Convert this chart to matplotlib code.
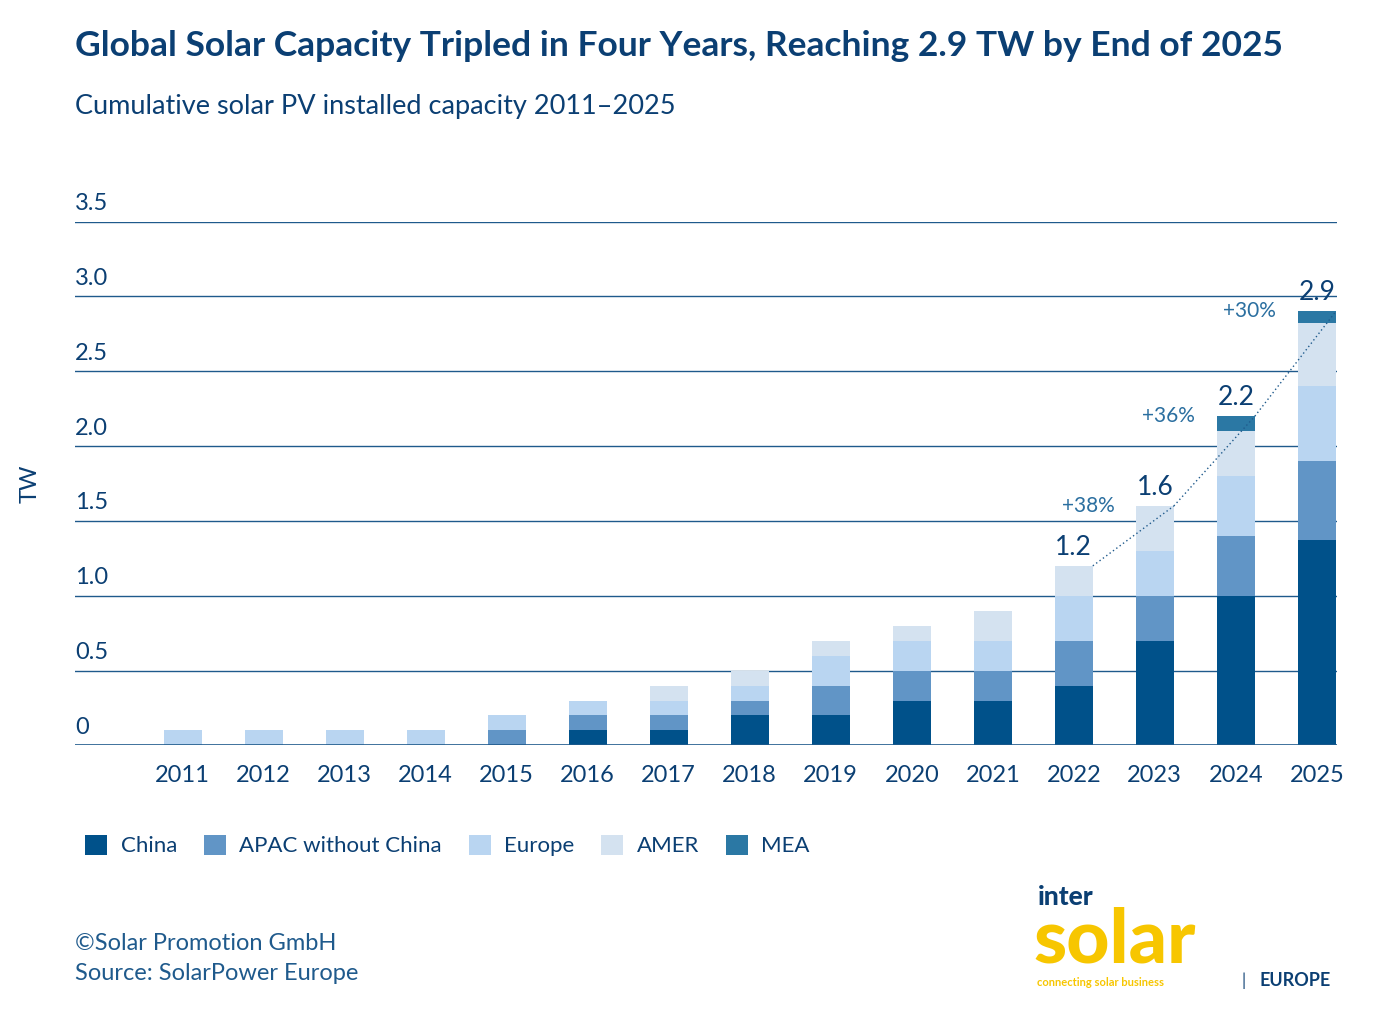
import numpy as np
import matplotlib.pyplot as plt

plt.rcParams["font.family"] = ["Lato", "DejaVu Sans"]

# Data (TW)
years = [2011, 2012, 2013, 2014, 2015, 2016, 2017, 2018, 2019, 2020, 2021, 2022, 2023, 2024, 2025]
china = [0, 0, 0, 0, 0, 0.1, 0.1, 0.2, 0.2, 0.3, 0.3, 0.4, 0.7, 1.0, 1.37]
apac = [0, 0, 0, 0, 0.1, 0.1, 0.1, 0.1, 0.2, 0.2, 0.2, 0.3, 0.3, 0.4, 0.53]
europe = [0.1, 0.1, 0.1, 0.1, 0.1, 0.1, 0.1, 0.1, 0.2, 0.2, 0.2, 0.3, 0.3, 0.4, 0.5]
amer = [0, 0, 0, 0, 0, 0, 0.1, 0.1, 0.1, 0.1, 0.2, 0.2, 0.3, 0.3, 0.42]
mea = [0, 0, 0, 0, 0, 0, 0, 0, 0, 0, 0, 0, 0, 0.1, 0.08]
total_labels = {2022: "1.2", 2023: "1.6", 2024: "2.2", 2025: "2.9"}
growth = {2023: "+38%", 2024: "+36%", 2025: "+30%"}
yticks = [0, 0.5, 1.0, 1.5, 2.0, 2.5, 3.0, 3.5]

NAVY = "#0b3f73"
colors = ["#00518a", "#6195c6", "#b9d5f1", "#d4e2f0", "#2b78a4"]
names = ["China", "APAC without China", "Europe", "AMER", "MEA"]

fig = plt.figure(figsize=(13.87, 10.31), dpi=100)
ax = fig.add_axes([0.054, 0.277, 0.91, 0.508])

x = np.array(years)
bottom = np.zeros(len(years))
for vals, c, n in zip([china, apac, europe, amer, mea], colors, names):
    ax.bar(x, vals, width=0.47, bottom=bottom, color=c, label=n, zorder=3)
    bottom += np.array(vals)

# Grid lines and tick labels on top of lines
for t in yticks:
    if t > 0:
        ax.axhline(t, color="#1f5a8c", lw=1, zorder=1)
    ax.text(2011 - 1.33, t + 0.05, "0" if t == 0 else f"{t:.1f}", fontsize=17,
            color=NAVY, va="bottom", ha="left")
ax.axhline(0, color="#1f5a8c", lw=1.2, zorder=4)

# Totals and growth
w = 0.47 / 2
for yr, lab in total_labels.items():
    i = years.index(yr)
    ax.text(yr, bottom[i] + 0.04, lab, fontsize=19, color=NAVY, ha="center", va="bottom")
for yr, lab in growth.items():
    i = years.index(yr)
    ax.plot([yr - 1 + w, yr + w], [bottom[i - 1], bottom[i]], ls=(0, (1, 2)), color="#1f5a8c", lw=1, zorder=5)
    ax.text(yr - 0.5, bottom[i] - 0.0, lab, fontsize=15,
            color="#2b6fa0", ha="right", va="center")

ax.set_xlim(2011 - 1.33, 2025 + 0.25)
ax.set_ylim(0, 3.5)
ax.set_xticks(years)
ax.set_xticklabels([str(y) for y in years], fontsize=17, color=NAVY)
ax.tick_params(axis="x", length=0, pad=14)
ax.set_yticks([])
for s in ax.spines.values():
    s.set_visible(False)
ax.set_ylabel("TW", fontsize=17, color=NAVY, labelpad=25)

# Titles
fig.text(0.054, 0.955, "Global Solar Capacity Tripled in Four Years, Reaching 2.9 TW by End of 2025",
         fontsize=25.5, fontweight="bold", color=NAVY, va="center")
fig.text(0.054, 0.897, "Cumulative solar PV installed capacity 2011\u20132025",
         fontsize=19.5, color=NAVY, va="center")

# Legend
fig.legend(loc="lower left", bbox_to_anchor=(0.047, 0.15), ncol=5, frameon=False,
           fontsize=16, handlelength=1.0, handleheight=1.0, columnspacing=1.2,
           handletextpad=0.6, labelcolor=NAVY)

# Footer
fig.text(0.054, 0.085, "\u00a9Solar Promotion GmbH", fontsize=17, color="#1f5a8c", va="center")
fig.text(0.054, 0.056, "Source: SolarPower Europe", fontsize=17, color="#1f5a8c", va="center")
fig.text(0.748, 0.122, "inter", fontsize=19, fontweight="black", color=NAVY, va="baseline")
fig.text(0.745, 0.066, "solar", fontsize=54, fontweight="black", color="#f7c600", va="baseline")
fig.text(0.748, 0.044, "connecting solar business", fontsize=8, fontweight="bold", color="#f7c600", va="baseline")
fig.text(0.895, 0.044, "|", fontsize=12, color=NAVY, va="baseline")
fig.text(0.908, 0.044, "EUROPE", fontsize=13, fontweight="bold", color=NAVY, va="baseline")

fig.savefig("out.png", dpi=100)
